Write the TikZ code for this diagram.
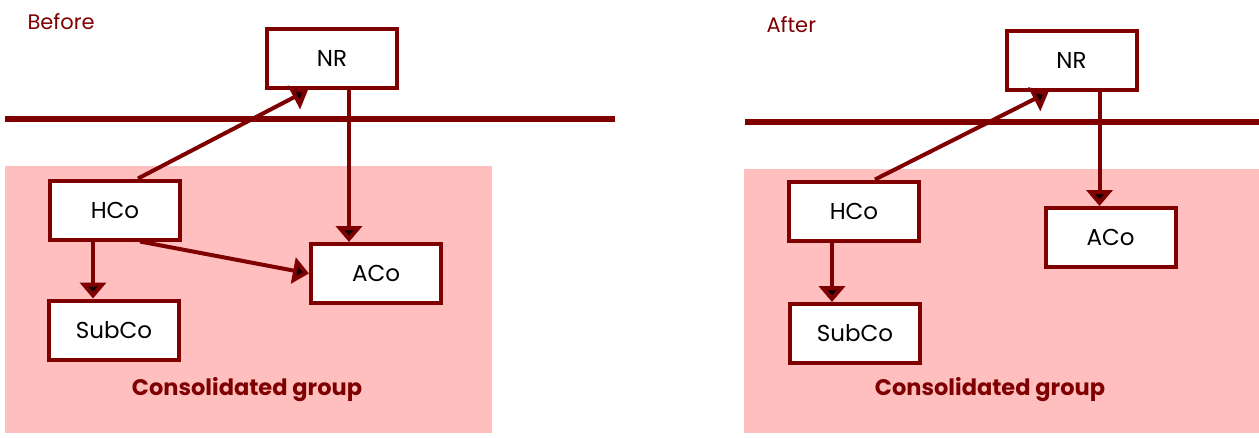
\documentclass[tikz,border=0pt]{standalone}
\usepackage{fontspec}
\setmainfont{Poppins}
\usepackage{tikz}
\usetikzlibrary{arrows.meta}

\definecolor{maroon}{HTML}{7F0000}
\definecolor{grouppink}{HTML}{FFBFBF}

\tikzset{
  entity/.style={draw=maroon, line width=4pt, fill=white, minimum width=130pt,
    minimum height=59pt, inner sep=0pt, font=\fontsize{23}{27}\selectfont},
  arr/.style={draw=maroon, line width=4pt, -{Triangle[width=26pt,length=16pt,fill=black!85!maroon]}},
  split/.style={draw=maroon, line width=6.5pt},
  grouplabel/.style={text=maroon, font=\fontsize{22.5}{27}\selectfont\bfseries},
  phase/.style={text=maroon, anchor=west, font=\fontsize{21}{25}\selectfont}
}

\begin{document}
\begin{tikzpicture}[x=1pt,y=-1pt]
\useasboundingbox (0,0) rectangle (1259,437);

% before
\fill[grouppink] (5,166) rectangle (492,433);
\draw[split] (5,119) -- (615,119);
\node[phase] (Tb) at (24,22) {Before};
\node[entity] (NRb) at (332,58.5) {NR};
\node[entity] (HCob) at (115,210) {HCo};
\node[entity] (SubCob) at (114,330) {SubCo};
\node[entity] (ACob) at (376,273.5) {ACo};
\node[grouplabel] (Gb) at (247,390) {Consolidated group};
\draw[arr] ([xshift=23pt]HCob.north) -- ([xshift=-24pt]NRb.south);
\draw[arr] ([xshift=17pt]NRb.south) -- ([xshift=17pt]NRb.south |- ACob.north);
\draw[arr] ([xshift=-22pt]HCob.south) -- ([xshift=-22pt]HCob.south |- SubCob.north);
\draw[arr] ([xshift=25pt]HCob.south) -- (ACob.west);

% after
\fill[grouppink] (744,169) rectangle (1259,433);
\draw[split] (745,122) -- (1259,122);
\node[phase] (Ta) at (763,25) {After};
\node[entity] (NRa) at (1071.5,60.5) {NR};
\node[entity] (HCoa) at (854,211) {HCo};
\node[entity] (SubCoa) at (855,333.5) {SubCo};
\node[entity] (ACoa) at (1110.5,237.5) {ACo};
\node[grouplabel] (Ga) at (990,390) {Consolidated group};
\draw[arr] ([xshift=21pt]HCoa.north) -- ([xshift=-23pt]NRa.south);
\draw[arr] ([xshift=28pt]NRa.south) -- ([xshift=28pt]NRa.south |- ACoa.north);
\draw[arr] ([xshift=-22pt]HCoa.south) -- ([xshift=-22pt]HCoa.south |- SubCoa.north);
\end{tikzpicture}
\end{document}
